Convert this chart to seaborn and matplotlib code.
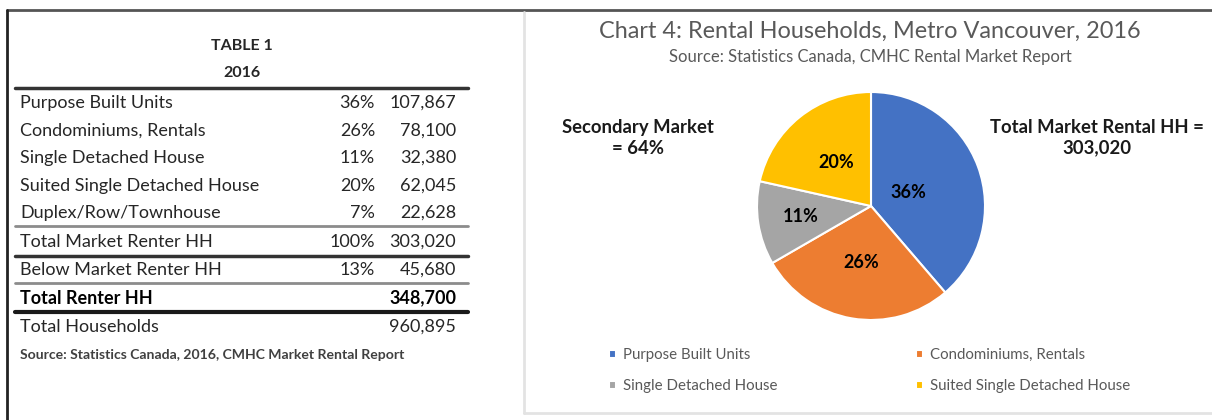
import matplotlib
matplotlib.use('Agg')
import matplotlib.pyplot as plt
import seaborn as sns
import numpy as np

sns.set_theme(style='white')
plt.rcParams['font.family'] = ['Lato', 'DejaVu Sans']

# Table data
row_labels = ['Purpose Built Units', 'Condominiums, Rentals', 'Single Detached House',
              'Suited Single Detached House', 'Duplex/Row/Townhouse', 'Total Market Renter HH',
              'Below Market Renter HH', 'Total Renter HH', 'Total Households']
row_pcts = ['36%', '26%', '11%', '20%', '7%', '100%', '13%', '', '']
row_values = ['107,867', '78,100', '32,380', '62,045', '22,628', '303,020',
              '45,680', '348,700', '960,895']

# Pie data
pie_labels = ['Purpose Built Units', 'Condominiums, Rentals', 'Single Detached House',
              'Suited Single Detached House']
pie_values = [36, 26, 11, 20]
pie_colors = ['#4472C4', '#ED7D31', '#A5A5A5', '#FFC000']

W, H = 1212, 420
fig = plt.figure(figsize=(W / 100, H / 100), dpi=100)

# background axes in pixel coordinates
bg = fig.add_axes([0, 0, 1, 1])
bg.set_xlim(0, W)
bg.set_ylim(H, 0)
bg.axis('off')

# frame lines
bg.plot([7, W], [10, 10], color='#555555', lw=2)
bg.plot([7, 7], [10, H], color='#222222', lw=2)
bg.plot([524, 524], [12, 413], color='#e3e3e3', lw=2)
bg.plot([524, W], [413, 413], color='#e3e3e3', lw=2)

# ---- Table ----
txt = '#262626'
bg.text(242, 46, 'TABLE 1', ha='center', va='center', fontsize=11.5, fontweight='bold', color=txt)
bg.text(242, 73, '2016', ha='center', va='center', fontsize=11.5, fontweight='bold', color=txt)

row_y = [103, 131, 158, 186, 213, 242, 270, 298, 327]
for i, (lab, pct, val) in enumerate(zip(row_labels, row_pcts, row_values)):
    fw = 'bold' if lab == 'Total Renter HH' else 'normal'
    c = '#000000' if fw == 'bold' else txt
    bg.text(20, row_y[i], lab, ha='left', va='center', fontsize=13, fontweight=fw, color=c)
    bg.text(375, row_y[i], pct, ha='right', va='center', fontsize=13, color=txt)
    bg.text(456, row_y[i], val, ha='right', va='center', fontsize=13, fontweight=fw, color=c)

bg.plot([15, 468], [88, 88], color='#333333', lw=2.5)
bg.plot([15, 468], [226, 226], color='#8c8c8c', lw=2)
bg.plot([15, 468], [256, 256], color='#333333', lw=2.5)
bg.plot([15, 468], [283, 283], color='#8c8c8c', lw=2)
bg.plot([15, 468], [312, 312], color='#1a1a1a', lw=3)
bg.text(20, 355, 'Source: Statistics Canada, 2016, CMHC Market Rental Report',
        ha='left', va='center', fontsize=10.1, fontweight='bold', color='#404040')

# ---- Chart ----
bg.text(870, 31, 'Chart 4: Rental Households, Metro Vancouver, 2016', ha='center', va='center',
        fontsize=16.9, color='#595959')
bg.text(870, 57, 'Source: Statistics Canada, CMHC Rental Market Report', ha='center', va='center',
        fontsize=12, color='#595959')
bg.text(638, 138, 'Secondary Market\n= 64%', ha='center', va='center', fontsize=13.3,
        fontweight='bold', color='#1a1a1a', linespacing=1.25)
bg.text(1097, 138, 'Total Market Rental HH =\n303,020', ha='center', va='center', fontsize=13.3,
        fontweight='bold', color='#1a1a1a', linespacing=1.25)

cx, cy, r = 871, 206, 114
half = r * 1.2
ax = fig.add_axes([(cx - half) / W, (H - cy - half) / H, 2 * half / W, 2 * half / H])
wedges, texts, autotexts = ax.pie(pie_values, colors=pie_colors, startangle=90, counterclock=False,
                                  autopct='%1.0f%%', pctdistance=0.5,
                                  wedgeprops=dict(edgecolor='white', linewidth=1.5),
                                  textprops=dict(fontsize=13, fontweight='bold', color='black'))
# show the raw percentages (pie normalises the slices) and place them like the original
label_dist = [0.35, 0.5, 0.62, 0.49]
for t, v, d in zip(autotexts, pie_values, label_dist):
    t.set_text(f'{v}%')
    x, y = t.get_position()
    n = np.hypot(x, y)
    t.set_position((x / n * d, y / n * d))
ax.set_xlim(-1.2, 1.2)
ax.set_ylim(-1.2, 1.2)
ax.set_aspect('equal')

# legend is filled row by row in the original
order = [0, 2, 1, 3]
fig.legend([wedges[i] for i in order], [pie_labels[i] for i in order], ncol=2,
           loc='upper left', bbox_to_anchor=(609 / W, 1 - 348 / H),
           frameon=False, fontsize=10.8, handlelength=0.45, handleheight=0.45, handletextpad=0.5,
           columnspacing=9.2, labelspacing=1.15, borderpad=0, borderaxespad=0,
           labelcolor='#595959')

fig.savefig('out.png', dpi=100)
